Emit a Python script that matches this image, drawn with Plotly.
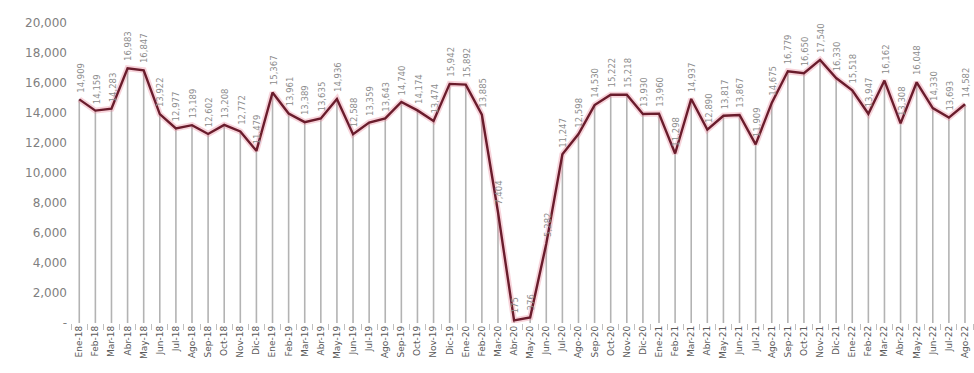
import plotly.graph_objects as go

months = ["Ene", "Feb", "Mar", "Abr", "May", "Jun", "Jul", "Ago", "Sep", "Oct", "Nov", "Dic"]
categories = [f"{m}-{y}" for y in ["18", "19", "20", "21", "22"] for m in months][:56]

values = [
    14909, 14159, 14283, 16983, 16847, 13922, 12977, 13189, 12602, 13208, 12772, 11479,
    15367, 13961, 13389, 13635, 14936, 12588, 13359, 13643, 14740, 14174, 13474, 15942,
    15892, 13885, 7404, 175, 376, 5282, 11247, 12598, 14530, 15222, 15218, 13930,
    13960, 11298, 14937, 12890, 13817, 13867, 11909, 14675, 16779, 16650, 17540, 16330,
    15518, 13947, 16162, 13308, 16048, 14330, 13693, 14582,
]

y_tickvals = [0, 2000, 4000, 6000, 8000, 10000, 12000, 14000, 16000, 18000, 20000]
y_ticktext = ["-"] + [f"{v:,}" for v in y_tickvals[1:]]

LABEL_SIZE = 8.5
GAP = 7

fig = go.Figure()

# drop lines from each point to zero
fig.add_trace(go.Scatter(
    x=categories, y=values, mode="markers",
    marker=dict(size=0.1, color="rgba(0,0,0,0)"),
    error_y=dict(type="data", symmetric=False, array=[0] * len(values),
                 arrayminus=values, thickness=1.6, width=0, color="#b3b3b3"),
    hoverinfo="skip", showlegend=False,
))
# soft glow under the line
fig.add_trace(go.Scatter(
    x=categories, y=values, mode="lines",
    line=dict(color="rgba(232,130,150,0.35)", width=6),
    hoverinfo="skip", showlegend=False,
))
fig.add_trace(go.Scatter(
    x=categories, y=values, mode="lines",
    line=dict(color="#6a1c2c", width=2.4),
    showlegend=False,
))

for c, v in zip(categories, values):
    txt = f"{v:,}"
    w = sum((0.318 if ch == "," else 0.636) for ch in txt) * LABEL_SIZE
    fig.add_annotation(
        x=c, y=v, text=txt, textangle=-90, showarrow=False,
        xanchor="center", yanchor="middle", yshift=GAP + w / 2, xshift=1,
        font=dict(family="DejaVu Sans", size=LABEL_SIZE, color="#8c8c8c"),
    )

fig.update_layout(
    width=974, height=373,
    margin=dict(l=68, r=0, t=23, b=50),
    paper_bgcolor="white", plot_bgcolor="white",
    font=dict(family="DejaVu Sans", color="#7f7f7f"),
)
fig.update_xaxes(
    type="category", range=[-0.7, 55.56],
    tickangle=-90, tickfont=dict(size=9, color="#595959"),
    ticks="outside", ticklen=6, tickcolor="#bfbfbf", tickson="boundaries",
    showgrid=False, showline=False, zeroline=False,
)
fig.update_yaxes(
    range=[0, 20000], tickvals=y_tickvals, ticktext=y_ticktext,
    tickfont=dict(size=12, color="#808080"),
    showgrid=False, zeroline=False, showline=False,
)

fig.write_html("out.html")
